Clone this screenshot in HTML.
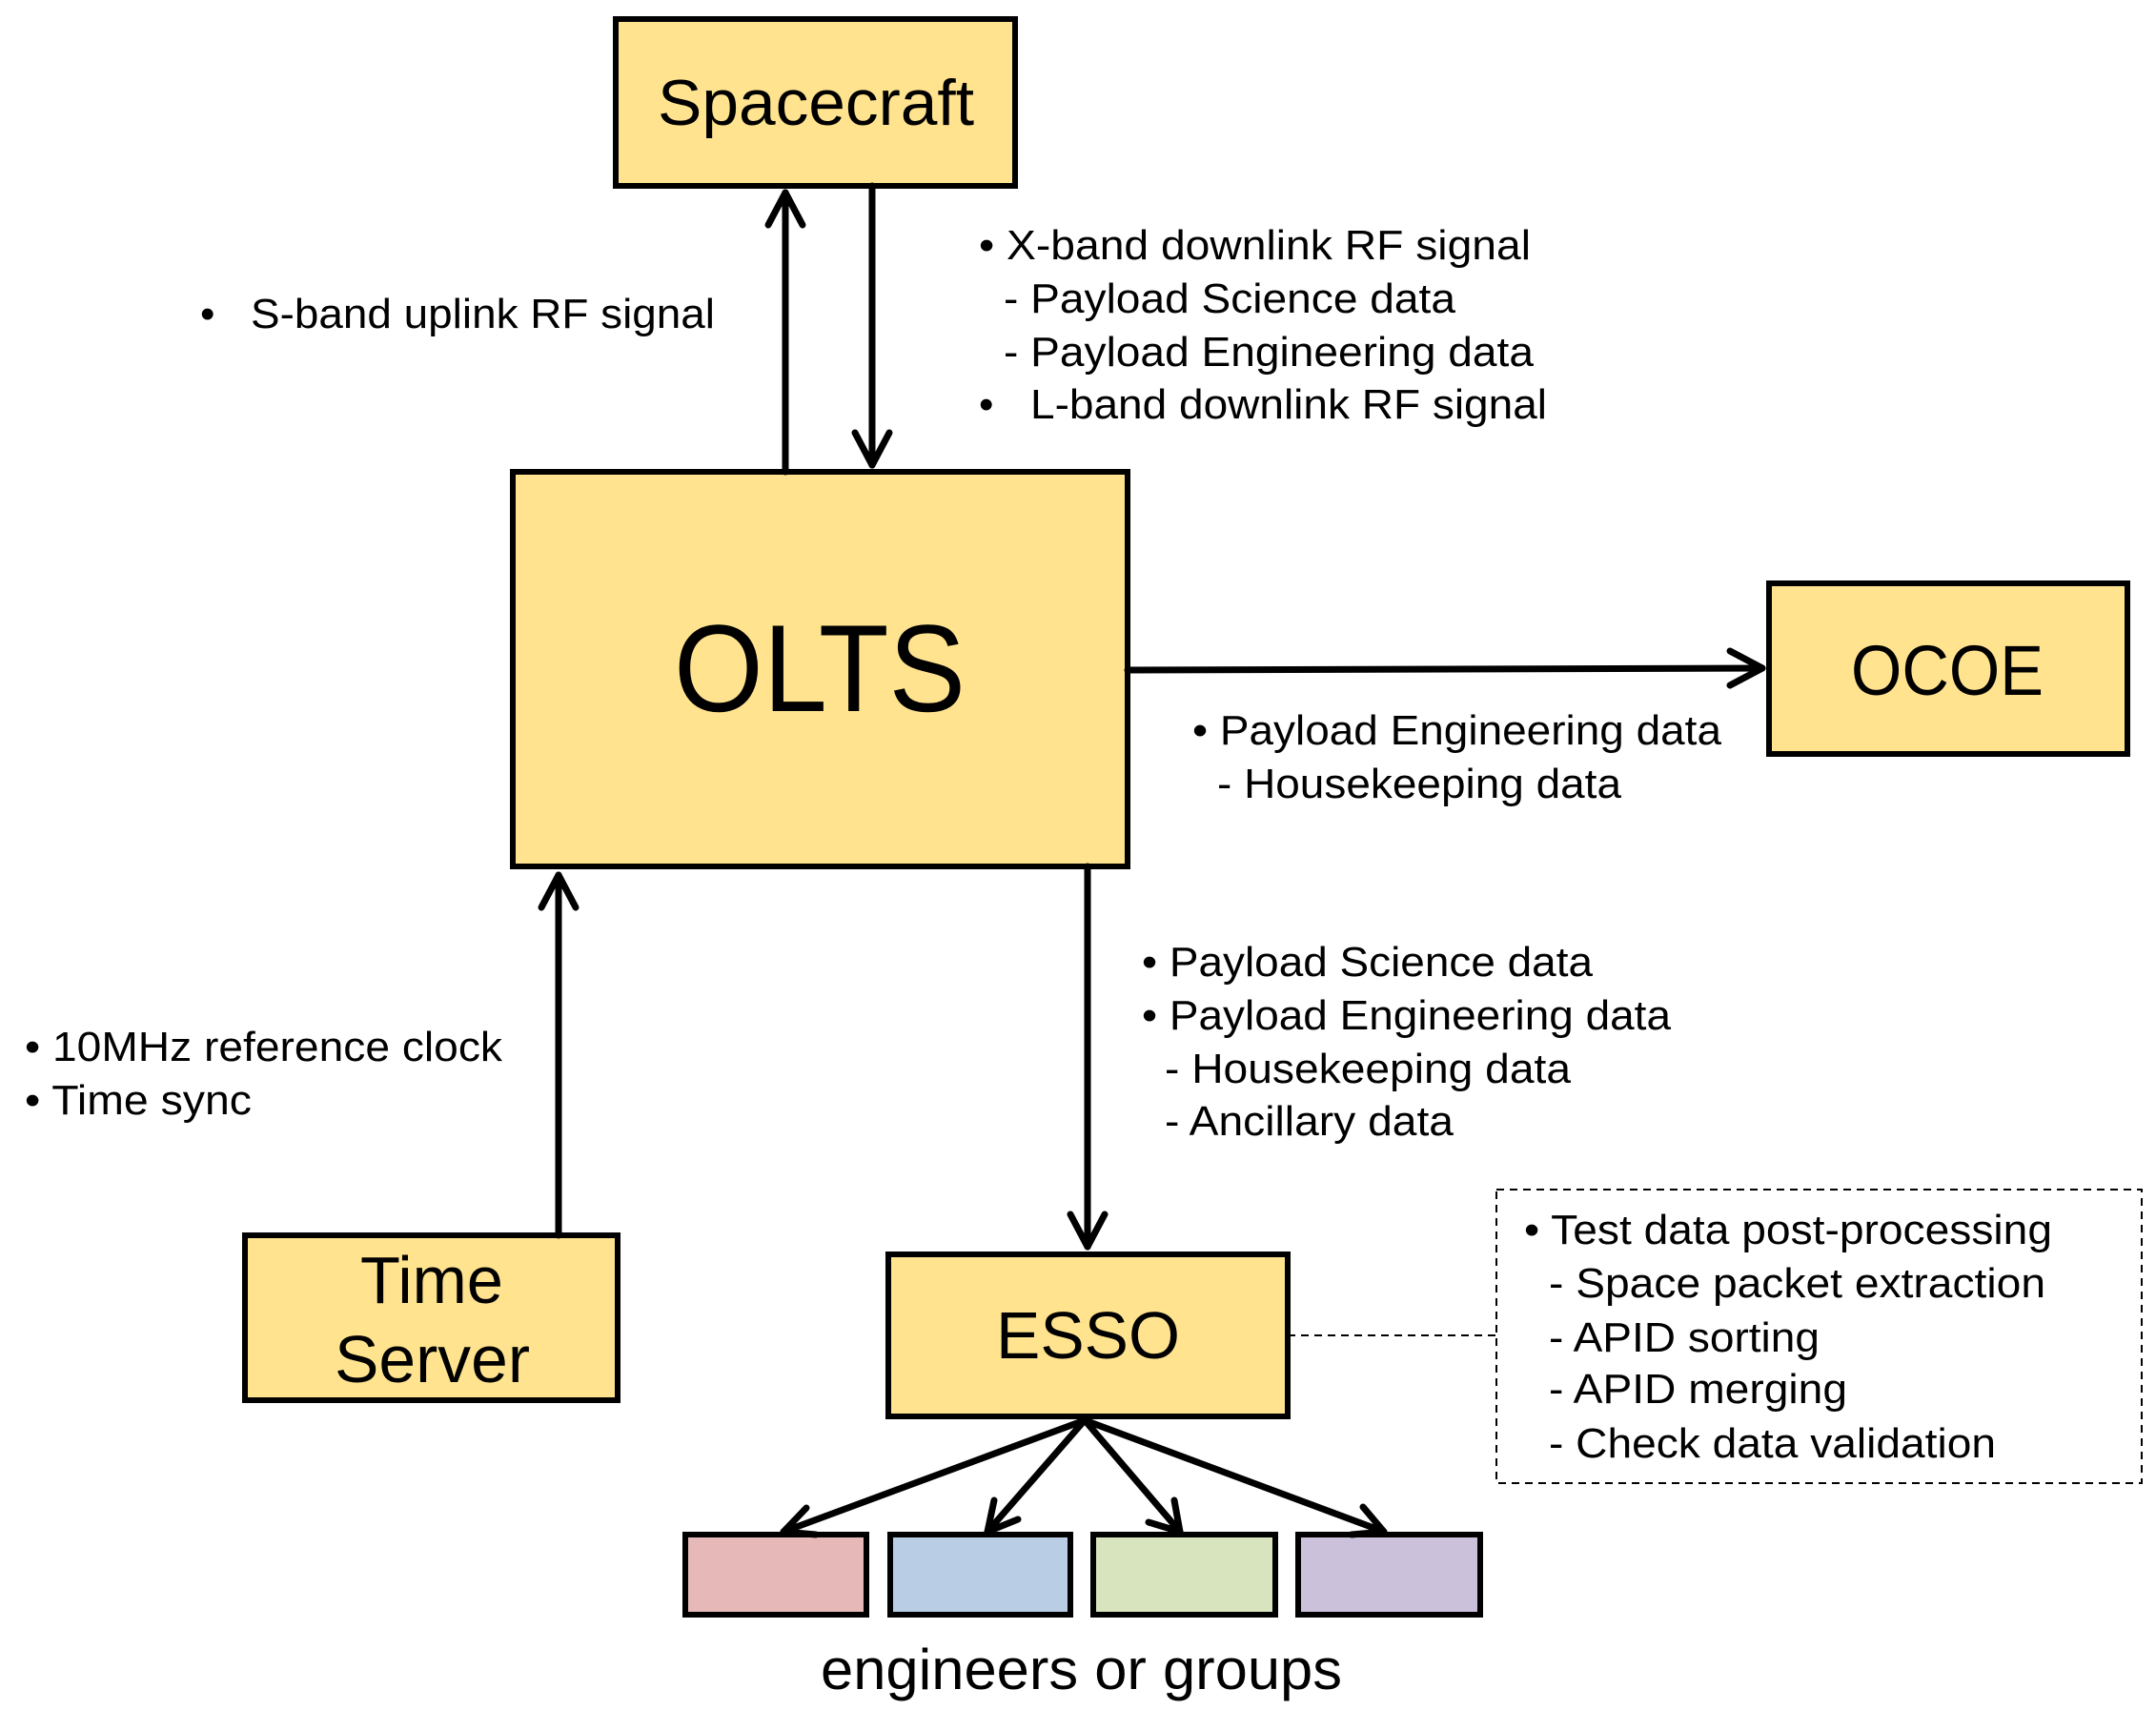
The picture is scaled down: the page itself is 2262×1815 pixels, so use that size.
<!DOCTYPE html>
<html><head><meta charset="utf-8"><style>html,body{margin:0;padding:0;background:#fff}svg{display:block}</style></head>
<body>
<svg width="2262" height="1815" viewBox="0 0 2262 1815" xmlns="http://www.w3.org/2000/svg" font-family="Liberation Sans, Arial, sans-serif" fill="#000">
<g stroke="#000" stroke-width="6">
<rect x="646" y="20" width="419" height="175" fill="#FFE38F"/>
<rect x="538" y="495" width="645" height="414" fill="#FFE38F"/>
<rect x="1856" y="612" width="376" height="179" fill="#FFE38F"/>
<rect x="257" y="1296" width="391" height="173" fill="#FFE38F"/>
<rect x="932" y="1316" width="419" height="170" fill="#FFE38F"/>
<rect x="719" y="1610" width="190" height="84" fill="#E6B9B8"/>
<rect x="934" y="1610" width="189" height="84" fill="#B9CDE5"/>
<rect x="1147" y="1610" width="191" height="84" fill="#D7E4BD"/>
<rect x="1362" y="1610" width="191" height="84" fill="#CCC1DA"/>
</g>
<g stroke="#000" stroke-width="2" fill="none" stroke-dasharray="8,6">
<rect x="1570" y="1248" width="677" height="308"/>
<line x1="1351" y1="1401" x2="1570" y2="1401"/>
</g>
<g stroke="#000" stroke-width="7" fill="none" stroke-linecap="round" stroke-linejoin="round">
<line x1="824" y1="495" x2="824" y2="202"/>
<polyline points="806,236 824,202 842,236"/>
<line x1="915" y1="195" x2="915" y2="488"/>
<polyline points="897,454 915,488 933,454"/>
<line x1="1183" y1="703" x2="1849" y2="701"/>
<polyline points="1815,683 1849,701 1815,719"/>
<line x1="586" y1="1296" x2="586" y2="918"/>
<polyline points="568,952 586,918 604,952"/>
<line x1="1141" y1="909" x2="1141" y2="1308"/>
<polyline points="1123,1274 1141,1308 1159,1274"/>
<line x1="1138" y1="1490" x2="822" y2="1607"/>
<polyline points="846,1582 822,1607 856,1610"/>
<line x1="1138" y1="1490" x2="1036" y2="1607"/>
<polyline points="1043,1574 1036,1607 1068,1594"/>
<line x1="1138" y1="1490" x2="1238" y2="1607"/>
<polyline points="1205,1597 1238,1607 1232,1574"/>
<line x1="1138" y1="1490" x2="1452" y2="1607"/>
<polyline points="1418,1610 1452,1607 1430,1581"/>
</g>
<g>
<text x="690" y="131" font-size="68" textLength="332" lengthAdjust="spacingAndGlyphs">Spacecraft</text>
<text x="707" y="746" font-size="130" textLength="306" lengthAdjust="spacingAndGlyphs">OLTS</text>
<text x="1942" y="729" font-size="74" textLength="202" lengthAdjust="spacingAndGlyphs">OCOE</text>
<text x="378" y="1367" font-size="70" textLength="150" lengthAdjust="spacingAndGlyphs">Time</text>
<text x="351" y="1450" font-size="70" textLength="205" lengthAdjust="spacingAndGlyphs">Server</text>
<text x="1045" y="1425" font-size="70" textLength="193" lengthAdjust="spacingAndGlyphs">ESSO</text>
<text x="861" y="1772" font-size="60" textLength="547" lengthAdjust="spacingAndGlyphs">engineers or groups</text>
</g>
<g font-size="44">
<text x="210" y="344">•</text>
<text x="263" y="344" textLength="487" lengthAdjust="spacingAndGlyphs">S-band uplink RF signal</text>
<text x="1027" y="272" textLength="579" lengthAdjust="spacingAndGlyphs">• X-band downlink RF signal</text>
<text x="1053" y="328" textLength="474" lengthAdjust="spacingAndGlyphs">- Payload Science data</text>
<text x="1053" y="384" textLength="556" lengthAdjust="spacingAndGlyphs">- Payload Engineering data</text>
<text x="1027" y="439">•</text>
<text x="1081" y="439" textLength="542" lengthAdjust="spacingAndGlyphs">L-band downlink RF signal</text>
<text x="1251" y="781" textLength="555" lengthAdjust="spacingAndGlyphs">• Payload Engineering data</text>
<text x="1277" y="837" textLength="424" lengthAdjust="spacingAndGlyphs">- Housekeeping data</text>
<text x="1198" y="1024" textLength="473" lengthAdjust="spacingAndGlyphs">• Payload Science data</text>
<text x="1198" y="1080" textLength="555" lengthAdjust="spacingAndGlyphs">• Payload Engineering data</text>
<text x="1222" y="1136" textLength="426" lengthAdjust="spacingAndGlyphs">- Housekeeping data</text>
<text x="1222" y="1191" textLength="303" lengthAdjust="spacingAndGlyphs">- Ancillary data</text>
<text x="26" y="1113" textLength="501" lengthAdjust="spacingAndGlyphs">• 10MHz reference clock</text>
<text x="26" y="1169" textLength="238" lengthAdjust="spacingAndGlyphs">• Time sync</text>
<text x="1599" y="1305" textLength="554" lengthAdjust="spacingAndGlyphs">• Test data post-processing</text>
<text x="1625" y="1361" textLength="521" lengthAdjust="spacingAndGlyphs">- Space packet extraction</text>
<text x="1625" y="1418" textLength="284" lengthAdjust="spacingAndGlyphs">- APID sorting</text>
<text x="1625" y="1472" textLength="313" lengthAdjust="spacingAndGlyphs">- APID merging</text>
<text x="1625" y="1529" textLength="469" lengthAdjust="spacingAndGlyphs">- Check data validation</text>
</g>
</svg>
</body></html>
